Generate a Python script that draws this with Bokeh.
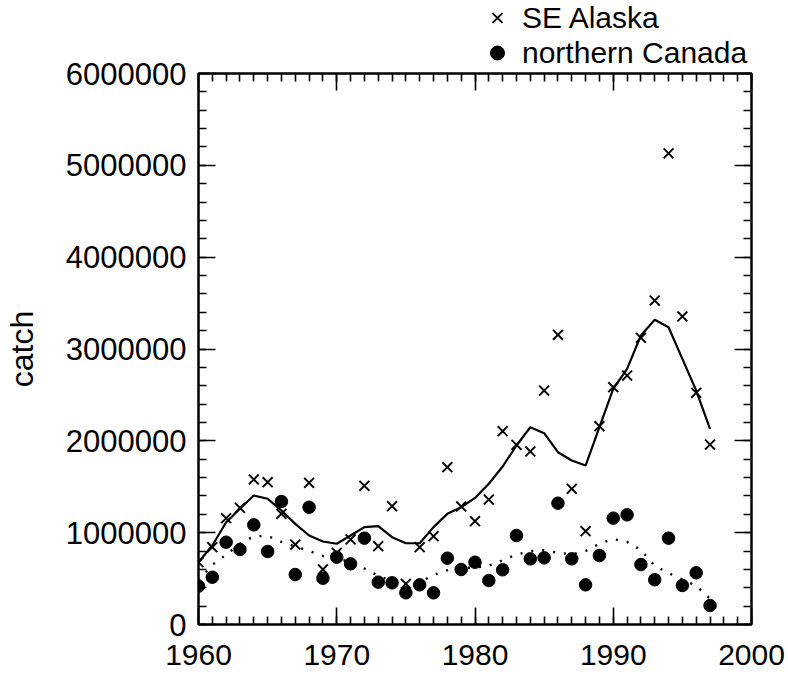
from bokeh.plotting import figure
from bokeh.layouts import column
from bokeh.models import (LinearAxis, SingleIntervalTicker, BasicTickFormatter,
                          CustomJSTickFormatter, Legend, LegendItem, Range1d)
from bokeh.embed import file_html
from bokeh.resources import INLINE

years = list(range(1960, 1998))

se_alaska = [678000, 842000, 1157000, 1270000, 1579000, 1550000, 1205000, 871000,
             1543000, 599000, 781000, 926000, 1510000, 853000, 1288000, 443000,
             842000, 962000, 1713000, 1285000, 1125000, 1361000, 2105000, 1957000,
             1884000, 2548000, 3155000, 1478000, 1016000, 2159000, 2584000, 2711000,
             3122000, 3528000, 5130000, 3354000, 2523000, 1960000]

northern_canada = [417000, 515000, 896000, 817000, 1085000, 795000, 1339000, 544000,
                   1277000, 504000, 733000, 661000, 940000, 461000, 454000, 345000,
                   432000, 345000, 722000, 599000, 678000, 479000, 596000, 969000,
                   715000, 726000, 1321000, 715000, 432000, 751000, 1158000, 1194000,
                   653000, 487000, 940000, 425000, 563000, 207000]

se_alaska_smooth = [678000, 860000, 1114000, 1260000, 1405000, 1369000, 1241000, 1096000,
                    969000, 904000, 879000, 969000, 1060000, 1071000, 951000, 885000,
                    885000, 1060000, 1205000, 1277000, 1378000, 1532000, 1720000, 1949000,
                    2148000, 2083000, 1876000, 1786000, 1731000, 2148000, 2566000, 2784000,
                    3147000, 3318000, 3237000, 2893000, 2548000, 2131000]

northern_canada_smooth = [480000, 650000, 760000, 880000, 960000, 965000, 900000, 850000,
                          800000, 745000, 720000, 680000, 610000, 530000, 470000, 450000,
                          460000, 540000, 590000, 615000, 620000, 640000, 700000, 760000,
                          800000, 810000, 780000, 765000, 800000, 880000, 930000, 900000,
                          810000, 640000, 560000, 490000, 420000, 280000]

legend_labels = ["SE Alaska", "northern Canada"]

x_ticks_interval = 10
y_ticks_interval = 1000000

FONT = "Liberation Sans"
W = 788
H = 676
LEG_H = 72

# ---- legend strip (sits behind the transparent top border of the plot) ----
lf = figure(width=W, height=LEG_H, output_backend="svg", toolbar_location=None,
            x_range=Range1d(0, 1), y_range=Range1d(0, 1), min_border=0,
            x_axis_location=None, y_axis_location=None)
lf.xgrid.visible = False
lf.ygrid.visible = False
lf.outline_line_color = None
lf.background_fill_alpha = 0
lf.border_fill_alpha = 0
# legend proxies: one real point each, outside this strip's ranges (not shown)
lx = lf.scatter([years[0]], [se_alaska[0]], marker="x", size=14,
                line_color="black", line_width=1.9)
lc = lf.scatter([years[0]], [northern_canada[0]], marker="circle", size=12.5,
                fill_color="black", line_color="black")
legend = Legend(items=[LegendItem(label=legend_labels[0], renderers=[lx]),
                       LegendItem(label=legend_labels[1], renderers=[lc])],
                location=(281, 2), orientation="vertical",
                glyph_width=36, glyph_height=35, label_standoff=7,
                spacing=0, padding=0, margin=0,
                border_line_color=None, background_fill_alpha=0,
                label_text_font=FONT, label_text_font_size="30px",
                label_text_color="black")
lf.add_layout(legend, "center")

# ---- main plot ----
p = figure(width=W, height=H, output_backend="svg", toolbar_location=None,
           x_range=Range1d(1960, 2000), y_range=Range1d(0, 6000000),
           min_border_left=197, min_border_right=37, min_border_top=73,
           min_border_bottom=52, x_axis_location=None, y_axis_location=None,
           margin=(-LEG_H, 0, 0, 0))
p.xgrid.visible = False
p.ygrid.visible = False
p.outline_line_color = "black"
p.outline_line_width = 2
p.background_fill_color = "white"
p.border_fill_alpha = 0


def style_axis(ax, show_labels, size="30px"):
    ax.axis_line_width = 2
    ax.axis_line_color = "black"
    ax.major_tick_in = 17
    ax.major_tick_out = 0
    ax.minor_tick_in = 8
    ax.minor_tick_out = 0
    ax.major_tick_line_width = 1.6
    ax.minor_tick_line_width = 1.6
    ax.major_tick_line_color = "black"
    ax.minor_tick_line_color = "black"
    ax.major_label_text_font = FONT
    ax.major_label_text_color = "black"
    if show_labels:
        ax.major_label_text_font_size = size
    else:
        ax.formatter = CustomJSTickFormatter(code="return ''")
        ax.major_label_text_font_size = "1px"
        ax.major_label_standoff = 0


xb = LinearAxis(ticker=SingleIntervalTicker(interval=x_ticks_interval, num_minor_ticks=10))
style_axis(xb, True, "30px")
xb.major_label_standoff = 20
p.add_layout(xb, "below")

xt = LinearAxis(ticker=SingleIntervalTicker(interval=x_ticks_interval, num_minor_ticks=10))
style_axis(xt, False)
p.add_layout(xt, "above")

yl = LinearAxis(ticker=SingleIntervalTicker(interval=y_ticks_interval, num_minor_ticks=5),
                formatter=BasicTickFormatter(use_scientific=False))
style_axis(yl, True, "31px")
yl.major_label_standoff = 12
yl.axis_label = "catch"
yl.axis_label_text_font = FONT
yl.axis_label_text_font_size = "32px"
yl.axis_label_text_font_style = "normal"
yl.axis_label_text_color = "black"
yl.axis_label_standoff = 23
p.add_layout(yl, "left")

yr = LinearAxis(ticker=SingleIntervalTicker(interval=y_ticks_interval, num_minor_ticks=5))
style_axis(yr, False)
p.add_layout(yr, "right")

p.line(years, se_alaska_smooth, line_color="black", line_width=2.2)
p.line(years, northern_canada_smooth, line_color="black", line_width=2.4,
       line_dash="2 9")

p.scatter(years, se_alaska, marker="x", size=14, line_color="black", line_width=1.9)
p.scatter(years, northern_canada, marker="circle", size=12.5,
          fill_color="black", line_color="black")

layout = column(lf, p, spacing=0)
open("out.html", "w").write(file_html(layout, INLINE))
